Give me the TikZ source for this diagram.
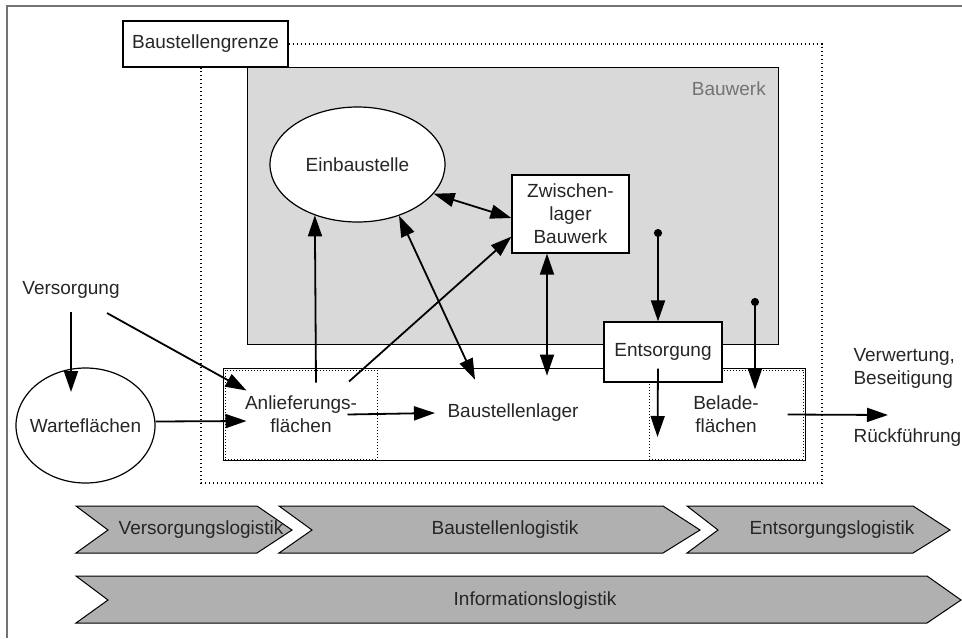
\documentclass[tikz,border=0pt]{standalone}
\usepackage{fontspec}
\setmainfont{Liberation Sans}
\usetikzlibrary{arrows.meta,shapes.geometric}

\begin{document}
\begin{tikzpicture}[x=1pt,y=-1pt,
    every node/.style={font=\fontsize{19}{23}\selectfont, text=black!85},
    kasten/.style={draw, line width=1.2pt, fill=white},
    punktkasten/.style={draw, line width=1pt, dash pattern=on 1pt off 2pt, align=center},
    pfeil/.style={line width=1.8pt, -{Triangle[length=21pt,width=14pt]}},
    doppelpfeil/.style={line width=1.8pt, {Triangle[length=21pt,width=14pt]}-{Triangle[length=21pt,width=14pt]}},
    punktpfeil/.style={line width=1.8pt, {Circle[length=8pt]}-{Triangle[length=21pt,width=14pt]}},
    grenzlinie/.style={line width=1.6pt, dash pattern=on 1.6pt off 2.4pt},
    logistik/.style={draw, line width=1pt, fill=black!31}]

   \useasboundingbox (0,0) rectangle (962,638);
   \draw[black!55, line width=1.2pt] (7,638) -- (7,6) -- (962,6);

   % Baustelle
   \node[kasten, minimum width=165, minimum height=46] (grenze) at (205.5,44) {Baustellengrenze};
   \coordinate (gecke) at (822,483);
   \draw[grenzlinie] (grenze.east) -| (gecke) -| ([xshift=-4.5pt]grenze.south);

   \node[draw, line width=1.2pt, fill=black!15, minimum width=531, minimum height=277,
         anchor=north west] (bauwerk) at (247,67) {};
   \node[text=black!55, anchor=east, inner sep=0pt] (bwlabel) at (766,89) {Bauwerk};

   \node[ellipse, draw, line width=1.2pt, fill=white, minimum width=175, minimum height=115]
        (einbau) at (357.5,164.5) {Einbaustelle};
   \node[kasten, align=center, minimum width=117, minimum height=78] (zwl) at (570.5,214)
        {Zwischen-\\lager\\Bauwerk};

   \node[kasten, minimum width=582, minimum height=92, anchor=north west] (lager) at (223,368) {};
   \node[punktkasten, minimum width=152, minimum height=89] (anl) at (301,414.5) {Anlieferungs-\\flächen};
   \node[punktkasten, minimum width=154, minimum height=89] (bel) at (726,414.5) {Belade-\\flächen};
   \node (blager) at (513,413) {Baustellenlager};
   \node[kasten, minimum width=118, minimum height=60] (ents) at (663,352) {Entsorgung};

   % Versorgung
   \node (ver) at (71,290) {Versorgung};
   \node[ellipse, draw, line width=1.2pt, minimum width=139, minimum height=115,
         label=center:Warteflächen] (wart) at (85.5,425.5) {};
   \node[align=left, anchor=west] (verw) at (850,368) {Verwertung,\\Beseitigung};
   \node[anchor=west] (rueck) at (850,438) {Rückführung};

   \coordinate (punkt1) at (658,229);
   \coordinate (punkt2) at (755,298);
   \coordinate (aus) at (888,415);

   \draw[pfeil] ([shift={(0,10)}]ver.south) -- ([shift={(-14.5,-33.5)}]wart.center);
   \draw[pfeil] ([shift={(36,11)}]ver.south) -- ([shift={(22,21)}]anl.north west);
   \draw[pfeil] ([shift={(0,-4)}]wart.east) -- ([shift={(22,6.5)}]anl.west);
   \draw[pfeil] ([xshift=-30pt]anl.east) -- ([xshift=-9pt]blager.west);
   \draw[pfeil] ([shift={(15,13)}]anl.north) -- (einbau.230);
   \draw[pfeil] ([shift={(48,12)}]anl.north) -- ([shift={(0,-17)}]zwl.south west);
   \draw[doppelpfeil] (einbau.-51.5) -- ([shift={(-38,-21)}]blager.north);
   \draw[doppelpfeil] (einbau.-21) -- ([shift={(0,4)}]zwl.west);
   \draw[doppelpfeil] ([xshift=-23.5pt]zwl.south) -- ([shift={(34,-25)}]blager.north);
   \draw[punktpfeil] (punkt1) -- (punkt1 |- ents.north);
   \draw[pfeil] ([shift={(-5,-14)}]ents.south) -- ([shift={(9,22.5)}]bel.west);
   \draw[punktpfeil] (punkt2) -- ([shift={(29,20)}]bel.north);
   \draw[pfeil] ([xshift=-16pt]bel.east) -- (aus);

   % Logistik
   \draw[logistik] (76,506) -- (257,506) -- (292,530) -- (257,553) -- (76,553) -- (108,530) -- cycle;
   \draw[logistik] (279,506) -- (663,506) -- (700,530) -- (663,553) -- (279,553) -- (312,530) -- cycle;
   \draw[logistik] (687,506) -- (913,506) -- (950,530) -- (913,553) -- (687,553) -- (718,530) -- cycle;
   \draw[logistik] (76,576) -- (927,576) -- (961,600) -- (927,623) -- (76,623) -- (108,600) -- cycle;
   \node (vlog) at (201,530) {Versorgungslogistik};
   \node (blog) at (505,530) {Baustellenlogistik};
   \node (elog) at (832,530) {Entsorgungslogistik};
   \node (ilog) at (535,601) {Informationslogistik};
\end{tikzpicture}
\end{document}
